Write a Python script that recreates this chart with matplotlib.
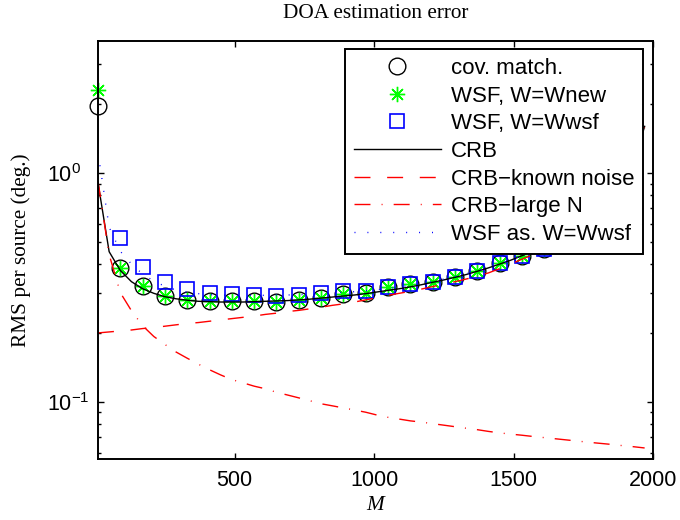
import numpy as np
import matplotlib
matplotlib.use('Agg')
import matplotlib.pyplot as plt
from matplotlib.ticker import FixedLocator, FixedFormatter, LogLocator, NullFormatter

plt.rcParams['font.family'] = ['Liberation Sans', 'DejaVu Sans']
plt.rcParams['mathtext.fontset'] = 'custom'
plt.rcParams['mathtext.rm'] = 'Liberation Sans'
plt.rcParams['mathtext.it'] = 'Liberation Sans:italic'

# Monte Carlo points (every 80)
M_mc = [10, 90, 170, 250, 330, 410, 490, 570, 650, 730, 810, 890, 970, 1050,
        1130, 1210, 1290, 1370, 1450, 1530, 1610, 1690, 1770, 1850, 1930]
cov_match = [1.96, 0.384, 0.321, 0.291, 0.279, 0.276, 0.276, 0.276, 0.274, 0.278,
             0.284, 0.295, 0.299, 0.317, 0.328, 0.335, 0.350, 0.372, 0.405, 0.432,
             0.465, 0.545, 0.635, 0.78, 1.1]
wsf_new = [2.31, 0.384, 0.321, 0.291, 0.279, 0.276, 0.276, 0.276, 0.274, 0.278,
           0.284, 0.295, 0.299, 0.317, 0.328, 0.335, 0.350, 0.372, 0.405, 0.432,
           0.465, 0.545, 0.635, 0.78, 1.1]
wsf_wsf = [np.nan, 0.522, 0.390, 0.335, 0.311, 0.298, 0.297, 0.294, 0.289, 0.293,
           0.299, 0.306, 0.305, 0.317, 0.328, 0.335, 0.350, 0.372, 0.405, 0.432,
           0.465, 0.545, 0.635, 0.78, 1.1]

# bounds (every 40)
M_b = [10, 50, 90, 130, 170, 210, 250, 290, 330, 370, 410, 450, 490, 530, 570,
       610, 650, 690, 730, 770, 810, 850, 890, 930, 970, 1010, 1050, 1090, 1130,
       1170, 1210, 1250, 1290, 1330, 1370, 1410, 1450, 1490, 1530, 1570, 1610,
       1650, 1690, 1730, 1770, 1810, 1850, 1890, 1930, 1970]
crb = [0.907, 0.453, 0.375, 0.335, 0.312, 0.298, 0.288, 0.282, 0.278, 0.275,
       0.274, 0.273, 0.273, 0.273, 0.274, 0.275, 0.276, 0.277, 0.279, 0.281,
       0.284, 0.287, 0.290, 0.293, 0.297, 0.302, 0.307, 0.312, 0.318, 0.325,
       0.333, 0.341, 0.350, 0.360, 0.372, 0.385, 0.400, 0.416, 0.435, 0.455,
       0.480, 0.510, 0.545, 0.585, 0.635, 0.700, 0.780, 0.900, 1.10, 1.60]
crb_known = [0.200, 0.202, 0.204, 0.206, 0.209, 0.211, 0.214, 0.217, 0.220, 0.222,
             0.225, 0.228, 0.231, 0.234, 0.237, 0.241, 0.244, 0.248, 0.251, 0.255,
             0.259, 0.264, 0.268, 0.273, 0.279, 0.285, 0.292, 0.298, 0.304, 0.311,
             0.319, 0.327, 0.335, 0.344, 0.354, 0.366, 0.382, 0.400, 0.420, 0.440,
             0.460, 0.490, 0.525, 0.565, 0.615, 0.680, 0.760, 0.880, 1.08, 1.58]
crb_largeN = [0.92, 0.44, 0.300, 0.250, 0.215, 0.193, 0.178, 0.165, 0.155, 0.146,
              0.138, 0.131, 0.125, 0.121, 0.117, 0.114, 0.110, 0.107, 0.104, 0.101,
              0.098, 0.096, 0.094, 0.092, 0.090, 0.0875, 0.0855, 0.0840, 0.0825, 0.0815,
              0.0802, 0.0790, 0.0778, 0.0766, 0.0755, 0.0742, 0.0731, 0.0722, 0.0714, 0.0705,
              0.0697, 0.0689, 0.0681, 0.0673, 0.0665, 0.0658, 0.0651, 0.0643, 0.0636, 0.0628]
wsf_as = [1.23, 0.58, 0.455, 0.400, 0.362, 0.337, 0.320, 0.308, 0.301, 0.297,
          0.294, 0.293, 0.292, 0.292, 0.292, 0.292, 0.293, 0.293, 0.294, 0.295,
          0.297, 0.299, 0.301, 0.303, 0.306, 0.309, 0.313, 0.318, 0.323, 0.329,
          0.336, 0.344, 0.353, 0.363, 0.374, 0.387, 0.402, 0.418, 0.436, 0.456,
          0.481, 0.510, 0.545, 0.585, 0.635, 0.700, 0.780, 0.900, 1.10, 1.60]

labels = ['cov. match.', 'WSF, W=Wnew', 'WSF, W=Wwsf', 'CRB',
          'CRB\u2212known noise', 'CRB\u2212large N', 'WSF as. W=Wwsf']

fs = 15.5
fig = plt.figure(figsize=(6.8, 5.2), dpi=100)
ax = fig.add_axes([98 / 680, 61 / 520, 555 / 680, 418 / 520])

ax.plot(M_mc, cov_match, 'o', mfc='none', mec='k', ms=12, mew=1.0, clip_on=False, label=labels[0])
ax.plot(M_mc, wsf_new, ls='none', marker=(8, 2, 0), mec=(0, 1, 0), ms=11, mew=1.0, clip_on=False, label=labels[1])
ax.plot(M_mc, wsf_wsf, 's', mfc='none', mec='b', ms=10.3, mew=1.2, clip_on=False, label=labels[2])
ax.plot(M_b, crb, '-', color='k', lw=1.0, label=labels[3])
ax.plot(M_b, crb_known, color='r', lw=1.0, ls=(0, (11.5, 12)), label=labels[4])
ax.plot(M_b, crb_largeN, color='r', lw=1.0, ls=(0, (11.5, 8, 0.7, 8)), label=labels[5])
ax.plot(M_b, wsf_as, color='b', lw=1.0, ls=(0, (0.7, 8.6)), label=labels[6])

ax.set_yscale('log')
ax.set_xlim(10, 2000)
ax.set_ylim(0.0562, 3.78)

ax.xaxis.set_major_locator(FixedLocator([500, 1000, 1500, 2000]))
ax.yaxis.set_major_locator(FixedLocator([0.1, 1.0]))
ax.yaxis.set_major_formatter(FixedFormatter([r'$\mathregular{10^{-1}}$', r'$\mathregular{10^{0}}$']))
ax.yaxis.set_minor_locator(LogLocator(base=10, subs=np.arange(2, 10), numticks=20))
ax.yaxis.set_minor_formatter(NullFormatter())
ax.tick_params(which='both', direction='in', top=True, right=True, width=1.0, labelsize=fs)
ax.tick_params(which='major', length=4)
ax.tick_params(which='minor', length=2.5)
ax.tick_params(axis='x', pad=8)
ax.tick_params(axis='y', pad=36.5)
for t in ax.get_yticklabels():
    t.set_horizontalalignment('left')
for s in ax.spines.values():
    s.set_linewidth(1.4)

fig.text(376 / 680, 1 - 14 / 520, 'DOA estimation error', family='Liberation Serif',
         fontsize=15.3, ha='center', va='center')
fig.text(375 / 680, 1 - 505 / 520, 'M', family='Liberation Serif', style='italic',
         fontsize=15.3, ha='center', va='center')
fig.text(21 / 680, 1 - 250 / 520, 'RMS per source (deg.)', family='Liberation Serif',
         fontsize=15.3, ha='center', va='center', rotation=90)

leg = ax.legend(loc='upper right', bbox_to_anchor=(643 / 680, 1 - 49 / 520),
                bbox_transform=fig.transFigure, borderaxespad=0, fontsize=16,
                handlelength=3.9, handletextpad=0.45, labelspacing=0.3,
                borderpad=0.4, fancybox=False, framealpha=1, edgecolor='k')
leg.get_frame().set_linewidth(1.4)

fig.savefig('out.png', dpi=100)
